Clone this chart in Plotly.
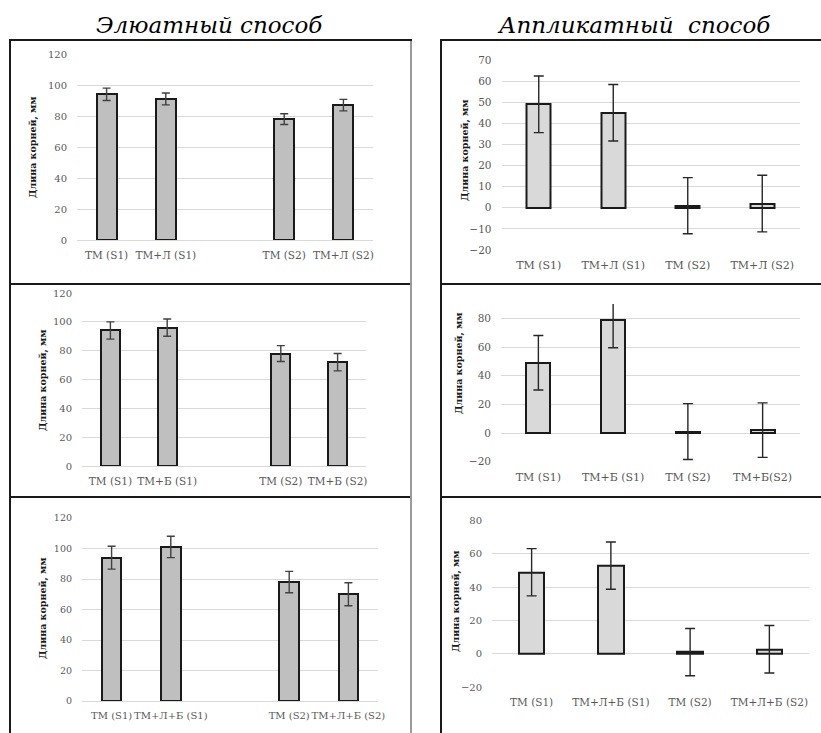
import plotly.graph_objects as go

W, H = 821, 733

# ---------------- data ----------------
title_left = "Элюатный способ"
title_right = "Аппликатный\u00a0 способ"
y_title = "Длина корней, мм"

spacer = " "

l1_cats = ["ТМ (S1)", "ТМ+Л (S1)", spacer, "ТМ (S2)", "ТМ+Л (S2)"]
l1_vals = [94, 91, None, 78, 87]
l1_err = [4, 3.8, None, 3.5, 3.7]

l2_cats = ["ТМ (S1)", "ТМ+Б (S1)", spacer, "ТМ (S2)", "ТМ+Б (S2)"]
l2_vals = [94, 96, None, 78, 72]
l2_err = [6, 6, None, 5.5, 6]

l3_cats = ["ТМ (S1)", "ТМ+Л+Б (S1)", spacer, "ТМ (S2)", "ТМ+Л+Б (S2)"]
l3_vals = [94, 101, None, 78, 70]
l3_err = [7.5, 7, None, 7, 7.5]

r1_cats = ["ТМ (S1)", "ТМ+Л (S1)", "ТМ (S2)", "ТМ+Л (S2)"]
r1_vals = [49, 45, 1, 2]
r1_err = [13.4, 13.4, 13.3, 13.4]

r2_cats = ["ТМ (S1)", "ТМ+Б (S1)", "ТМ (S2)", "ТМ+Б(S2)"]
r2_vals = [49, 79, 1, 2]
r2_err = [19, 19.5, 19.5, 19]

r3_cats = ["ТМ (S1)", "ТМ+Л+Б (S1)", "ТМ (S2)", "ТМ+Л+Б (S2)"]
r3_vals = [49, 53, 1, 2.7]
r3_err = [14.2, 14.2, 14.2, 14.3]

# ---------------- layout helpers ----------------
def fx(px):
    return px / W

def fy(py):
    return 1 - py / H

SERIF = "DejaVu Serif"
TICK_COLOR = "#595959"
GRID = "#d9d9d9"

panels = [
    # cats, vals, errs, xdom(px), ydom(px), yrange, dtick, fill, errcolor, errwidth, barwidth, fontsize
    (l1_cats, l1_vals, l1_err, (77, 373), (54, 240), [0, 120], 20, "#bfbfbf", "#404040", 4, 0.34, 10.5),
    (l2_cats, l2_vals, l2_err, (82, 366), (293, 466), [0, 120], 20, "#bfbfbf", "#404040", 4, 0.33, 10.5),
    (l3_cats, l3_vals, l3_err, (82, 378), (518, 701), [0, 120], 20, "#bfbfbf", "#404040", 4, 0.33, 10),
    (r1_cats, r1_vals, r1_err, (501.5, 799.5), (60, 250), [-20, 70], 10, "#d9d9d9", "#262626", 5, 0.32, 11),
    (r2_cats, r2_vals, r2_err, (501, 800), (304, 461.7), [-20, 90], 20, "#d9d9d9", "#262626", 5, 0.32, 11),
    (r3_cats, r3_vals, r3_err, (492, 809), (520.7, 687), [-20, 80], 20, "#d9d9d9", "#262626", 5, 0.32, 10.5),
]

fig = go.Figure()
layout = dict(
    width=W, height=H,
    margin=dict(l=0, r=0, t=0, b=0, autoexpand=False),
    paper_bgcolor="white", plot_bgcolor="white",
    showlegend=False,
    font=dict(family=SERIF),
)

for i, (cats, vals, errs, xd, yd, yr, dt, fill, ecol, ew, bw, fs) in enumerate(panels):
    n = "" if i == 0 else str(i + 1)
    fig.add_trace(go.Bar(
        x=cats, y=vals,
        xaxis="x" + n, yaxis="y" + n,
        width=bw,
        marker=dict(color=fill, line=dict(color="#1a1a1a", width=2)),
        error_y=dict(type="data", array=errs, visible=True, color=ecol,
                     thickness=1.4, width=ew),
        hoverinfo="x+y",
    ))
    layout["xaxis" + n] = dict(
        domain=[fx(xd[0]), fx(xd[1])], anchor="y" + n,
        type="category", categoryorder="array", categoryarray=cats,
        showgrid=False, showline=False, zeroline=False, ticks="",
        tickangle=0, automargin=False,
        ticklabelstandoff=7,
        tickfont=dict(family=SERIF, size=fs, color=TICK_COLOR),
        fixedrange=True,
    )
    layout["yaxis" + n] = dict(
        domain=[fy(yd[1]), fy(yd[0])], anchor="x" + n,
        range=yr, dtick=dt, tick0=0,
        showgrid=True, gridcolor=GRID, gridwidth=1,
        zeroline=True, zerolinecolor=GRID, zerolinewidth=1,
        showline=False, ticks="", automargin=False,
        ticklabelstandoff=9,
        tickfont=dict(family=SERIF, size=fs - 0.5, color=TICK_COLOR),
        fixedrange=True,
    )

fig.update_layout(**layout)
fig.update_layout(bargap=0)

# y-axis titles as rotated annotations
ytitle_pos = [(33, 147), (43, 380), (43, 608), (465, 150), (459, 363), (456, 601)]
annotations = []
for (px, py) in ytitle_pos:
    annotations.append(dict(
        x=fx(px), y=fy(py), xref="paper", yref="paper",
        text="<b>" + y_title + "</b>", textangle=-90, showarrow=False,
        xanchor="center", yanchor="middle",
        font=dict(family=SERIF, size=9.5, color="#1a1a1a"),
    ))

# column titles
annotations.append(dict(x=fx(210), y=fy(25), xref="paper", yref="paper",
                        text="<i>" + title_left + "</i>", showarrow=False,
                        xanchor="center", yanchor="middle",
                        font=dict(family=SERIF, size=23, color="#000000")))
annotations.append(dict(x=fx(634), y=fy(25), xref="paper", yref="paper",
                        text="<i>" + title_right + "</i>", showarrow=False,
                        xanchor="center", yanchor="middle",
                        font=dict(family=SERIF, size=23, color="#000000")))
fig.update_layout(annotations=annotations)

# panel frames
shapes = []
boxes = [
    (10, 40, 411, 284), (10, 284, 411, 497), (10, 497, 411, 760),
    (441, 40, 840, 284), (441, 284, 840, 497), (441, 497, 840, 760),
]
for (x0, y0, x1, y1) in boxes:
    shapes.append(dict(type="rect", xref="paper", yref="paper",
                       x0=fx(x0), x1=fx(x1), y0=fy(y1), y1=fy(y0),
                       line=dict(color="#1a1a1a", width=2), fillcolor="rgba(0,0,0,0)",
                       layer="above"))
# lighter right edge of the left column frames
shapes.append(dict(type="line", xref="paper", yref="paper",
                   x0=fx(411), x1=fx(411), y0=fy(760), y1=fy(41),
                   line=dict(color="#9a9a9a", width=2), layer="above"))
fig.update_layout(shapes=shapes)

fig.write_html("out.html")
